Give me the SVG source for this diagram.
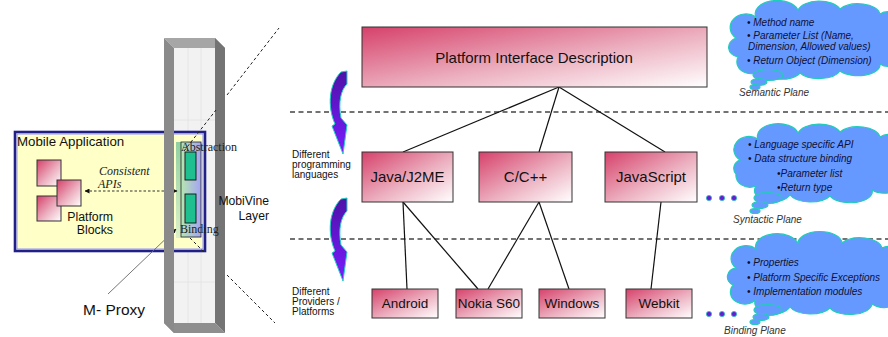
<svg xmlns="http://www.w3.org/2000/svg" width="888" height="337" viewBox="0 0 888 337">
<defs>
<linearGradient id="gBox" x1="0" y1="0" x2="1" y2="1"><stop offset="0" stop-color="#d6416a"/><stop offset="0.55" stop-color="#ecb0c0"/><stop offset="1" stop-color="#ffffff"/></linearGradient>
<linearGradient id="gArrow" x1="0" y1="0" x2="0" y2="1"><stop offset="0" stop-color="#4e12a8"/><stop offset="1" stop-color="#7a1cff"/></linearGradient>
<linearGradient id="gInner" x1="0" y1="0" x2="1" y2="0"><stop offset="0" stop-color="#b6e6b0"/><stop offset="1" stop-color="#a4a4f4"/></linearGradient>
<linearGradient id="gShadow" x1="0" y1="0" x2="0" y2="1"><stop offset="0" stop-color="#7cc89a"/><stop offset="1" stop-color="#d8f0c8"/></linearGradient>
<marker id="ah" viewBox="0 0 10 10" refX="9" refY="5" markerWidth="5" markerHeight="5" orient="auto-start-reverse"><path d="M0,0 L10,5 L0,10 Z" fill="#111"/></marker>
<style>
.box{fill:url(#gBox);stroke:#333;stroke-width:1}
.t{font-family:"Liberation Sans",Arial,sans-serif;fill:#111}
.serif{font-family:"Liberation Serif","Times New Roman",serif;fill:#222}
.cl{font-family:"Liberation Sans",Arial,sans-serif;font-style:italic;font-size:10px;fill:#101035}
.plane{font-family:"Liberation Sans",Arial,sans-serif;font-style:italic;font-size:10px;fill:#333}
.cloud{fill:#6699ff;stroke:#22ccbb;stroke-width:1.2}
.line{stroke:#111;stroke-width:1.2;fill:none}
.dash{stroke:#444;stroke-width:1.4;stroke-dasharray:5 3.5;fill:none}
.proj{stroke:#222;stroke-width:1;stroke-dasharray:3 2.5;fill:none}
.curl{fill:url(#gArrow);stroke:#22d0c0;stroke-width:1}
.dot{fill:#6a1ad0;stroke:#20c0c0;stroke-width:0.8}
</style>
</defs>
<rect width="888" height="337" fill="#fff"/>

<g id="pillar">
<rect x="174" y="48" width="41" height="275" fill="#f2f2f2"/>
<path d="M188 48 V323 M201 48 V323 M174 120 H215 M174 282 H215" stroke="#e2e2e2" stroke-width="0.8"/>
<polygon points="164,38 215,38 225,48 174,48" fill="#a6a6a6"/>
<polygon points="164,323 215,323 225,333 174,333" fill="#8e8e8e"/>
</g>

<g id="mobile-application">
<rect x="15" y="132" width="190" height="119" fill="#ffffc8" stroke="#202088" stroke-width="2.6"/>
<rect x="17" y="134" width="186" height="115" fill="none" stroke="#7a7aff" stroke-width="0.8"/>
<text class="t" x="17" y="146" font-size="13.3">Mobile Application</text>
</g>

<g id="platform-blocks">
<rect class="box" x="37" y="160" width="24" height="26"/>
<rect class="box" x="37" y="196" width="24" height="25"/>
<rect class="box" x="57" y="180" width="24" height="26"/>
<text class="t" x="113" y="221" font-size="12.3" text-anchor="end">Platform</text>
<text class="t" x="113" y="234" font-size="12.3" text-anchor="end">Blocks</text>
</g>

<g id="m-proxy">
<rect x="176" y="142" width="25" height="96" fill="url(#gShadow)" opacity="0.85"/>
<rect x="181" y="142" width="20" height="95" fill="url(#gInner)" stroke="#222" stroke-width="0.8"/>
<rect x="185" y="152" width="11" height="28" fill="#1fbf8f" stroke="#111" stroke-width="0.9"/>
<rect x="185" y="194" width="11" height="29" fill="#1fbf8f" stroke="#111" stroke-width="0.9"/>
<text class="t" x="83" y="315" font-size="15.5">M- Proxy</text>
</g>

<g id="consistent-apis">
<text class="serif" x="99" y="175" font-size="12" font-style="italic" fill="#333">Consistent</text>
<text class="serif" x="98" y="188" font-size="12" font-style="italic" fill="#333">APIs</text>
</g>

<g id="connectors-left">
<line x1="85" y1="191" x2="177" y2="191" stroke="#333" stroke-width="1" stroke-dasharray="2.5 2" marker-start="url(#ah)" marker-end="url(#ah)"/>
<line x1="108" y1="294" x2="176" y2="229" stroke="#666" stroke-width="0.9" marker-end="url(#ah)"/>
</g>

<g id="pillar-sides">
<polygon points="164,38 174,48 174,333 164,323" fill="#8a8a8a"/>
<polygon points="215,38 225,48 225,333 215,323" fill="#747474"/>
</g>

<g id="proxy-labels">
<text class="serif" x="181" y="151" font-size="12">Abstraction</text>
<text class="serif" x="180" y="233" font-size="12">Binding</text>
</g>

<g id="mobivine-label">
<text class="t" x="269" y="205" font-size="12.2" text-anchor="end">MobiVine</text>
<text class="t" x="269" y="220" font-size="12.2" text-anchor="end">Layer</text>
</g>

<g id="projection-lines">
<line class="proj" x1="184" y1="151" x2="216" y2="110"/>
<line class="proj" x1="227" y1="95" x2="279" y2="28"/>
<line class="proj" x1="190" y1="238" x2="204" y2="252"/>
<line class="proj" x1="227" y1="275" x2="275" y2="323"/>
</g>

<g id="separators">
<line class="dash" x1="290" y1="112" x2="888" y2="112"/>
<line class="dash" x1="290" y1="239" x2="888" y2="239"/>
</g>

<g id="curl-arrows">
<path class="curl" d="M347 71 L347 84 C341 90 338 102 341 118 L347 125 L343 154 L332 126 L335 124 C327 106 329 84 341 72 Z"/>
<path class="curl" d="M347 198 L347 211 C341 217 338 229 341 245 L347 252 L343 281 L332 253 L335 251 C327 233 329 211 341 199 Z"/>
</g>

<g id="side-labels">
<text class="t" font-size="10" x="292" y="158">Different</text>
<text class="t" font-size="10" x="292" y="168">programming</text>
<text class="t" font-size="10" x="292" y="178">languages</text>
<text class="t" font-size="10" x="292" y="295">Different</text>
<text class="t" font-size="10" x="292" y="305">Providers /</text>
<text class="t" font-size="10" x="292" y="315">Platforms</text>
</g>

<g id="connectors">
<line class="line" x1="559" y1="87" x2="403" y2="152"/>
<line class="line" x1="559" y1="87" x2="539" y2="152"/>
<line class="line" x1="559" y1="87" x2="665" y2="152"/>
<line class="line" x1="403" y1="202" x2="407" y2="289"/>
<line class="line" x1="403" y1="202" x2="478" y2="289"/>
<line class="line" x1="539" y1="202" x2="488" y2="289"/>
<line class="line" x1="539" y1="202" x2="569" y2="289"/>
<line class="line" x1="661" y1="202" x2="651" y2="289"/>
</g>

<g id="platform-interface-description">
<rect class="box" x="362" y="27" width="345" height="60"/>
<text class="t" x="534" y="63" font-size="15" text-anchor="middle">Platform Interface Description</text>
</g>
<g id="java-j2me">
<rect class="box" x="362" y="152" width="91" height="50"/>
<text class="t" x="407.5" y="182" font-size="15" text-anchor="middle">Java/J2ME</text>
</g>
<g id="c-cpp">
<rect class="box" x="479" y="152" width="93" height="50"/>
<text class="t" x="525.5" y="182" font-size="15" text-anchor="middle">C/C++</text>
</g>
<g id="javascript">
<rect class="box" x="605" y="152" width="92" height="50"/>
<text class="t" x="651" y="182" font-size="15" text-anchor="middle">JavaScript</text>
</g>
<g id="android">
<rect class="box" x="372" y="289" width="66" height="29"/>
<text class="t" x="405" y="308" font-size="13.5" text-anchor="middle">Android</text>
</g>
<g id="nokia-s60">
<rect class="box" x="456" y="289" width="66" height="29"/>
<text class="t" x="489" y="308" font-size="13.5" text-anchor="middle">Nokia S60</text>
</g>
<g id="windows">
<rect class="box" x="539" y="289" width="66" height="29"/>
<text class="t" x="572" y="308" font-size="13.5" text-anchor="middle">Windows</text>
</g>
<g id="webkit">
<rect class="box" x="626" y="289" width="66" height="29"/>
<text class="t" x="659" y="308" font-size="13.5" text-anchor="middle">Webkit</text>
</g>

<g id="ellipsis-dots">
<circle class="dot" cx="709" cy="198" r="2.6"/>
<circle class="dot" cx="722" cy="198" r="2.6"/>
<circle class="dot" cx="734" cy="198" r="2.6"/>
<circle class="dot" cx="709" cy="314" r="2.6"/>
<circle class="dot" cx="722" cy="314" r="2.6"/>
<circle class="dot" cx="734" cy="314" r="2.6"/>
</g>

<g id="semantic-cloud">
<path class="cloud" d="M736 38 A14 12 0 0 1 756 17 A20 12 0 0 1 798 10 A22 12 0 0 1 840 9 A22 12 0 0 1 880 14 A14 14 0 0 1 896 40 A14 14 0 0 1 880 64 A22 11 0 0 1 840 71 A22 11 0 0 1 800 73 A20 11 0 0 1 762 69 A14 12 0 0 1 738 57 A12 10 0 0 1 736 38 Z"/>
<ellipse class="cloud" cx="768" cy="75" rx="15" ry="5.5"/>
<ellipse class="cloud" cx="759" cy="82" rx="8" ry="3.5"/>
<ellipse class="cloud" cx="755" cy="87" rx="5" ry="2.5"/>
<text class="cl" x="747" y="26">• Method name</text>
<text class="cl" x="747" y="39">• Parameter List (Name,</text>
<text class="cl" x="748" y="50">Dimension, Allowed values)</text>
<text class="cl" x="747" y="64">• Return Object (Dimension)</text>
<text class="plane" x="739" y="96">Semantic Plane</text>
</g>

<g id="syntactic-cloud">
<path class="cloud" d="M740 160 A14 12 0 0 1 758 139 A20 12 0 0 1 798 133 A22 12 0 0 1 840 132 A22 12 0 0 1 880 137 A14 16 0 0 1 896 168 A16 12 0 0 1 872 190 A22 11 0 0 1 830 196 A22 11 0 0 1 790 195 A18 11 0 0 1 756 186 A14 12 0 0 1 736 174 A10 9 0 0 1 740 160 Z"/>
<ellipse class="cloud" cx="768" cy="198" rx="14" ry="5.5"/>
<ellipse class="cloud" cx="760" cy="205" rx="8" ry="3.5"/>
<ellipse class="cloud" cx="755" cy="211" rx="5" ry="2.5"/>
<text class="cl" x="748" y="148">• Language specific API</text>
<text class="cl" x="748" y="162">• Data structure binding</text>
<text class="cl" x="777" y="177">•Parameter list</text>
<text class="cl" x="777" y="191">•Return type</text>
<text class="plane" x="733" y="223">Syntactic Plane</text>
</g>

<g id="binding-cloud">
<path class="cloud" d="M736 268 A14 12 0 0 1 756 249 A20 12 0 0 1 798 244 A22 12 0 0 1 842 243 A22 12 0 0 1 882 248 A14 16 0 0 1 896 285 A16 12 0 0 1 872 304 A22 11 0 0 1 830 308 A22 11 0 0 1 790 307 A18 11 0 0 1 756 299 A14 12 0 0 1 733 285 A10 9 0 0 1 736 268 Z"/>
<ellipse class="cloud" cx="768" cy="310" rx="14" ry="5.5"/>
<ellipse class="cloud" cx="761" cy="317" rx="8" ry="3.5"/>
<ellipse class="cloud" cx="755" cy="322" rx="5" ry="2.5"/>
<text class="cl" x="747" y="266">• Properties</text>
<text class="cl" x="747" y="281">• Platform Specific Exceptions</text>
<text class="cl" x="747" y="295">• Implementation modules</text>
<text class="plane" x="724" y="334">Binding Plane</text>
</g>
</svg>
